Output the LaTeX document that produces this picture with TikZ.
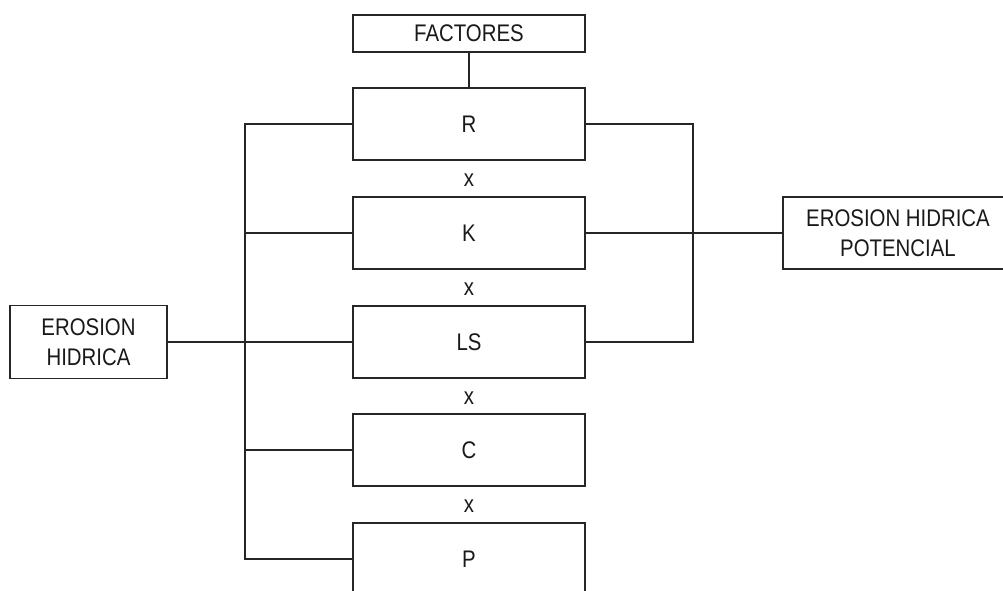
\documentclass[tikz,border=0pt]{standalone}
\usepackage{fontspec}
\setmainfont[FakeStretch=0.85]{Liberation Sans}
\begin{document}
\begin{tikzpicture}[x=0.75pt,y=-0.75pt,
  line width=1.3pt,
  box/.style={draw=black!85,line width=1.3pt,rectangle,inner sep=0pt,align=center,
    font=\fontsize{18}{22.5}\selectfont,text=black!90},
  fac/.style={box,minimum width=174pt,minimum height=54pt},
  lbl/.style={font=\fontsize{18}{20}\selectfont,text=black!90,inner sep=0pt},
  wire/.style={draw=black!85,line width=1.3pt}]
\clip (0,0) rectangle (1003,590);
\node[box,minimum width=174pt,minimum height=27.75pt] (F) at (469,33.5) {FACTORES};
\node[fac] (R) at (469,124) {R};
\node[fac] (K) at (469,233) {K};
\node[fac] (LS) at (469,342) {LS};
\node[fac] (C) at (469,450) {C};
\node[fac] (P) at (469,559) {P};
\node[lbl] (x1) at (469,180) {x};
\node[lbl] (x2) at (469,289) {x};
\node[lbl] (x3) at (469,398) {x};
\node[lbl] (x4) at (469,506) {x};
\node[box,minimum width=117.75pt,minimum height=54.75pt] (EH) at (88.5,342) {EROSION\\HIDRICA};
\node[box,minimum width=172.5pt,minimum height=54pt] (EHP) at (898,233) {EROSION HIDRICA\\POTENCIAL};
\coordinate (lb) at (245,0);
\coordinate (rb) at (693,0);
\draw[wire] (F.south) -- (R.north);
\draw[wire] (R.west) -- (R.west -| lb) -- (P.west -| lb) -- (P.west);
\draw[wire] (K.west) -- (K.west -| lb);
\draw[wire] (LS.west -| lb) -- (LS.west);
\draw[wire] (C.west) -- (C.west -| lb);
\draw[wire] (EH.east) -- (EH.east -| lb);
\draw[wire] (R.east) -- (R.east -| rb) -- (LS.east -| rb) -- (LS.east);
\draw[wire] (K.east) -- (EHP.west);
\end{tikzpicture}
\end{document}
